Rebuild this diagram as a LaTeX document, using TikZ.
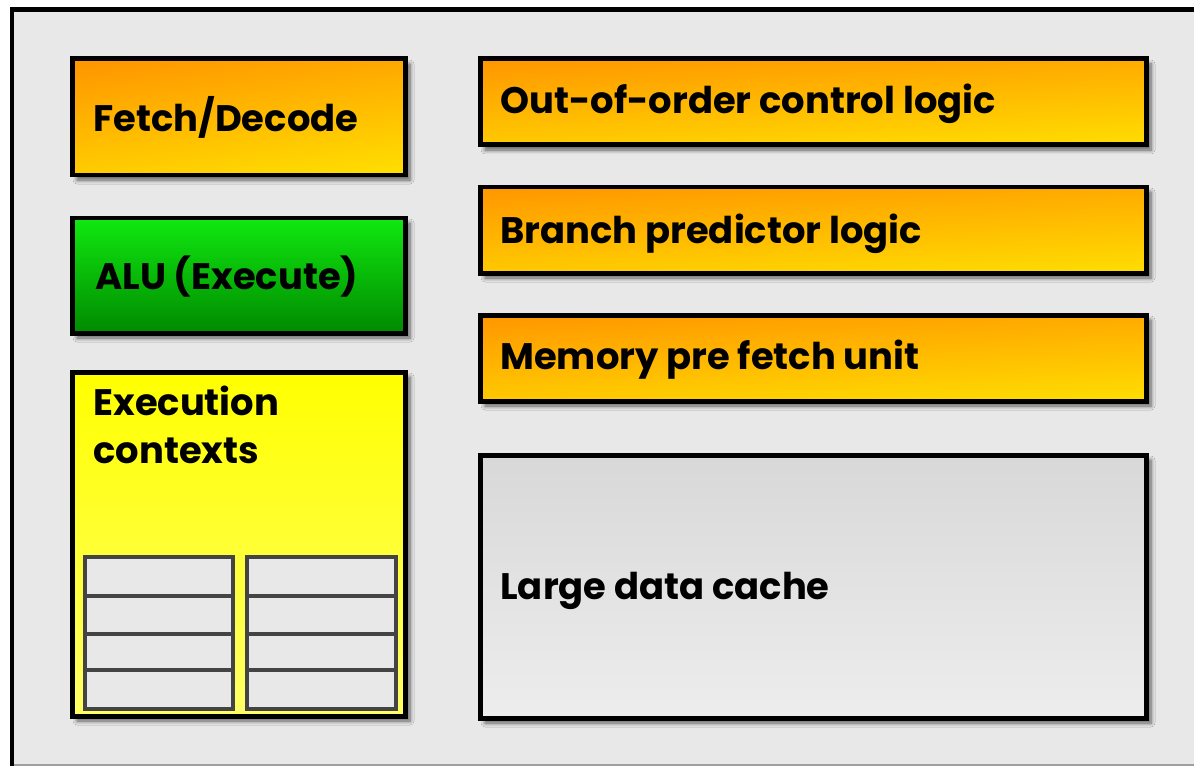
\documentclass[tikz,border=0pt]{standalone}
\usepackage{fontspec}
\setmainfont{Poppins}
\usetikzlibrary{shadows.blur,fit}
\definecolor{panel}{HTML}{E8E8E8}
\definecolor{orangetop}{HTML}{FF9800}
\definecolor{orangebot}{HTML}{FFDC00}
\definecolor{greentop}{HTML}{10E810}
\definecolor{greenbot}{HTML}{008A00}
\definecolor{yellowtop}{HTML}{FFFF00}
\definecolor{yellowbot}{HTML}{FFFF66}
\definecolor{cachetop}{HTML}{D8D8D8}
\definecolor{cachebot}{HTML}{EDEDED}
\definecolor{cellline}{HTML}{444444}
\tikzset{
  unit/.style={draw=black, line width=0.1cm, inner sep=0pt,
    blur shadow={shadow xshift=0.1cm, shadow yshift=-0.1cm, shadow blur steps=6, shadow blur radius=0.08cm, shadow opacity=60}},
  orangeunit/.style={unit, shading=axis, top color=orangetop, bottom color=orangebot, shading angle=#1},
  orangeunit/.default=3,
  greenunit/.style={unit, top color=greentop, bottom color=greenbot},
  yellowunit/.style={unit, top color=yellowtop, bottom color=yellowbot},
  cacheunit/.style={unit, top color=cachetop, bottom color=cachebot},
  cell/.style={draw=cellline, fill=panel, line width=0.08cm, inner sep=0pt},
  lbl/.style={anchor=west, inner sep=0pt, text=black, font=\fontsize{21}{30}\selectfont\bfseries},
}
\begin{document}
\begin{tikzpicture}[x=0.02cm,y=-0.02cm]
\useasboundingbox (0,0) rectangle (1194,767);
% page and processor panel
\fill[white] (0,0) rectangle (1194,767);
\fill[panel] (12,10) rectangle (1194,765);
\draw[gray!75, line width=0.6pt] (12,765) -- (1194,765);
\draw[black, line width=0.1cm] (12,766) -- (12,10) -- (1194,10);

% left column
\node[orangeunit=7, fit={(72,59) (405,175)}] (fetch) {};
\node[lbl] (fetchtxt) at (93,117) {Fetch/Decode};

\node[greenunit, fit={(72,218) (405,333)}] (alu) {};
\node[lbl] (alutxt) at (95,277) {ALU (Execute)};

\node[yellowunit, fit={(72,372) (405,716)}] (ctx) {};
\node[lbl, anchor=north west, align=left, font=\fontsize{21}{27}\selectfont\bfseries] (ctxtxt) at (93,386) {Execution\\contexts};

% register contexts: two columns of four slots
\foreach \c/\xa/\xb in {l/85/233, r/247/396}{
  \foreach \r/\ya/\yb in {1/557/596, 2/596/634, 3/634/670, 4/670/709}{
    \node[cell, fit={(\xa,\ya) (\xb,\yb)}] (cell\c\r) {};
  }
}

% right column
\node[orangeunit, fit={(480,59) (1146,145)}] (ooo) {};
\node[lbl] (oootxt) at (500,104) {Out-of-order control logic};

\node[orangeunit, fit={(480,187) (1146,273)}] (branch) {};
\node[lbl] (branchtxt) at (500,234) {Branch predictor logic};

\node[orangeunit, fit={(480,315) (1146,401)}] (prefetch) {};
\node[lbl] (prefetchtxt) at (500,360) {Memory pre fetch unit};

\node[cacheunit, fit={(480,455) (1146,718)}] (cache) {};
\node[lbl] (cachetxt) at (500,591) {Large data cache};
\end{tikzpicture}
\end{document}
